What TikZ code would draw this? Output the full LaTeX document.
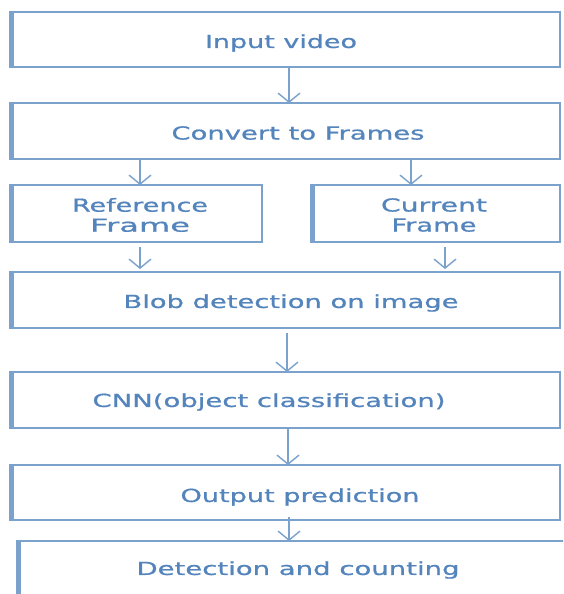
\documentclass[tikz,border=0pt]{standalone}
\usepackage{fontspec}
\setmainfont{DejaVu Sans}
\newfontfamily\boxfont[FakeBold=0.7]{DejaVu Sans}
\usetikzlibrary{arrows.meta}
\definecolor{edgeblue}{HTML}{7BA2CD}
\definecolor{txtblue}{HTML}{5484BC}
\newcommand{\sw}[2]{\resizebox{#1pt}{\height}{#2}}
\begin{document}
\begin{tikzpicture}[x=1pt,y=-1pt,
  box/.style={draw=edgeblue, line width=2pt, inner sep=0pt, outer sep=0pt, fill=white},
  lbl/.style={text=txtblue, inner sep=0pt, font=\boxfont\fontsize{18}{20}\selectfont, align=center},
  thickleft/.style={draw=edgeblue, line width=5pt},
  arr/.style={draw=edgeblue, line width=1.4pt, -{Straight Barb[length=9pt,width=22pt,line width=1.4pt]}}]
\useasboundingbox (0,0) rectangle (563,594);
\clip (0,0) rectangle (563,594);
\fill[white] (0,0) rectangle (563,594);

% boxes
\node[box, minimum width=550pt, minimum height=55pt] (b1) at (285,39.5) {};
\node[box, minimum width=550pt, minimum height=56pt] (b2) at (285,131) {};
\node[box, minimum width=252pt, minimum height=57pt] (b3l) at (136,213.5) {};
\node[box, minimum width=249pt, minimum height=57pt] (b3r) at (435.5,213.5) {};
\node[box, minimum width=550pt, minimum height=56pt] (b4) at (285,300) {};
\node[box, minimum width=550pt, minimum height=56pt] (b5) at (285,400) {};
\node[box, minimum width=550pt, minimum height=55pt] (b6) at (285,492.5) {};
\node[box, minimum width=553pt, minimum height=59pt] (b7) at (293.5,570.5) {};

% thick left edges
\foreach \b in {b1,b2,b3l,b3r,b4,b5,b6,b7}{
  \draw[thickleft] ([xshift=1.5pt]\b.north west) -- ([xshift=1.5pt]\b.south west);
}

% labels
\node[lbl] (t1) at (281,43) {\sw{152}{Input video}};
\node[lbl] (t2) at (298,133) {\sw{253}{Convert to Frames}};
\node[lbl] (t3l) at (140,215) {\sw{136}{Reference}\\\sw{100}{Frame}};
\node[lbl] (t3r) at (434,215) {\sw{106}{Current}\\\sw{85}{Frame}};
\node[lbl] (t4) at (291,303) {\sw{335}{Blob detection on image}};
\node[lbl] (t5) at (269,402) {\sw{353}{CNN(object classification)}};
\node[lbl] (t6) at (300,497) {\sw{239}{Output prediction}};
\node[lbl] (t7) at (298,570) {\sw{323}{Detection and counting}};

% arrow columns
\coordinate (c1) at (289,0);
\coordinate (c2l) at (140,0);
\coordinate (c2r) at (411,0);
\coordinate (c3l) at (140,0);
\coordinate (c3r) at (445,0);
\coordinate (c4) at (287,0);
\coordinate (c5) at (288,0);
\coordinate (c6) at (289,0);

\draw[arr] (c1 |- b1.south) -- (c1 |- b2.north);
\draw[arr] (c2l |- b2.south) -- (c2l |- b3l.north);
\draw[arr] (c2r |- b2.south) -- (c2r |- b3r.north);
\draw[arr, shorten <=5pt, shorten >=3pt] (c3l |- b3l.south) -- (c3l |- b4.north);
\draw[arr, shorten <=5pt, shorten >=3pt] (c3r |- b3r.south) -- (c3r |- b4.north);
\draw[arr, shorten <=5pt] (c4 |- b4.south) -- (c4 |- b5.north);
\draw[arr] (c5 |- b5.south) -- (c5 |- b6.north);
\draw[arr, shorten <=-3pt] (c6 |- b6.south) -- (c6 |- b7.north);
\end{tikzpicture}
\end{document}
